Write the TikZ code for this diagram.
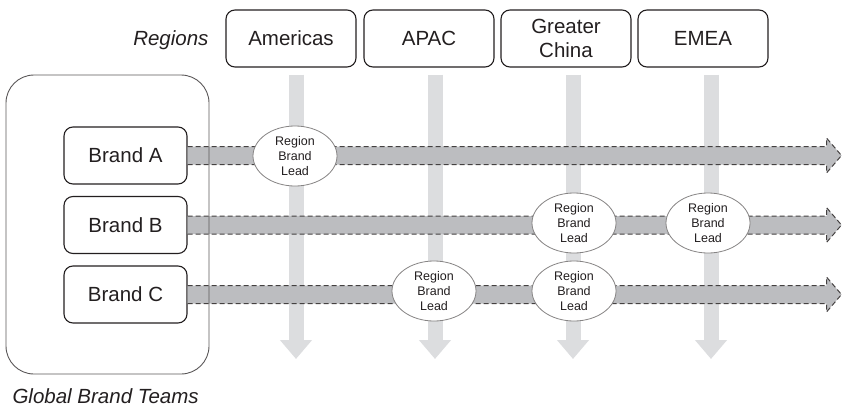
\documentclass[tikz,border=0pt]{standalone}
\usepackage{fontspec}
\setmainfont{Liberation Sans}
\usetikzlibrary{arrows.meta,calc,shapes.geometric}
\definecolor{ink}{HTML}{231F20}
\definecolor{hgray}{HTML}{BCBDC0}
\definecolor{vgray}{HTML}{DCDDDF}

\begin{document}
\begin{tikzpicture}[x=1pt,y=-1pt,
  box/.style={draw=ink, line width=1.1pt, rounded corners=9pt, minimum width=130pt,
    minimum height=57pt, inner sep=2pt, align=center, text=ink,
    font=\fontsize{20.5}{24}\selectfont},
  brand/.style={box, minimum width=123pt},
  lead/.style={ellipse, draw=ink!55, line width=0.8pt, fill=white, minimum width=84pt,
    minimum height=60pt, inner sep=0pt, align=center, text=ink,
    font=\fontsize{12.5}{15}\selectfont},
  down/.style={vgray, line width=15pt, shorten <=7pt, -{Triangle[width=31pt,length=19pt]}},
  band/.style={draw=ink!85, fill=hgray, line width=1pt, dash pattern=on 5pt off 3pt},
  caption/.style={text=ink, font=\fontsize{20.5}{24}\selectfont\itshape}]
\useasboundingbox (0,0) rectangle (843,410);

\node[box] (R1) at (291,38.5) {Americas};
\node[box] (R2) at (429,38.5) {APAC};
\node[box] (R3) at (566,38.5) {Greater\\China};
\node[box] (R4) at (703,38.5) {EMEA};
\node[caption, anchor=east] (RL) at (212,40) {Regions};

\node[brand] (B1) at (125.5,155.5) {Brand A};
\node[brand] (B2) at (125.5,225) {Brand B};
\node[brand] (B3) at (125.5,294.5) {Brand C};
\node[caption, anchor=west] (GL) at (9,396) {Global Brand Teams};

\coordinate (E1) at (296,359);
\coordinate (E2) at (435,359);
\coordinate (E3) at (573,359);
\coordinate (E4) at (711,359);

\foreach \i in {1,...,4}
  \draw[down] (R\i.south -| E\i) -- (E\i);

\coordinate (T1) at (841.5,155.5);
\coordinate (T2) at (841.5,225);
\coordinate (T3) at (841.5,294.5);

\foreach \i in {1,2,3}
  \draw[band] ($(B\i.east)+(0,-9)$) -- ($(T\i)+(-15,-9)$) -- ($(T\i)+(-15,-17.5)$)
    -- (T\i) -- ($(T\i)+(-15,17.5)$) -- ($(T\i)+(-15,9)$) -- ($(B\i.east)+(0,9)$);

\draw[ink!75, line width=0.9pt, rounded corners=28pt] (6,75) rectangle (209,374);

\node[lead] (L1) at (295,156) {Region\\Brand\\Lead};
\node[lead] (L2) at (574,223) {Region\\Brand\\Lead};
\node[lead] (L3) at (708,223) {Region\\Brand\\Lead};
\node[lead] (L4) at (434,291) {Region\\Brand\\Lead};
\node[lead] (L5) at (574,291) {Region\\Brand\\Lead};
\end{tikzpicture}
\end{document}
